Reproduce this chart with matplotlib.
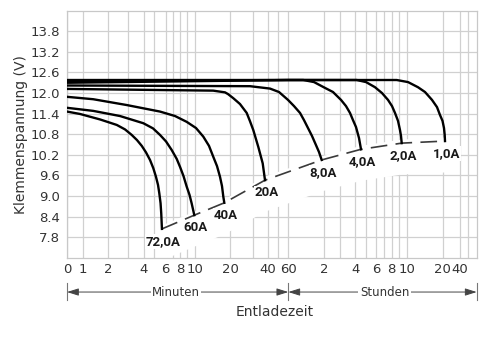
import numpy as np
import matplotlib
matplotlib.use('Agg')
import matplotlib.pyplot as plt
import matplotlib.transforms as mtransforms

plt.rcParams['font.family'] = 'DejaVu Sans'

# Zeitachse in Minuten (ungleichmaessige Teilung wie im Original)
scale_min = [0, 1, 2, 3, 4, 5, 6, 7, 8, 9, 10, 20, 30, 40, 50, 60,
             120, 180, 240, 300, 360, 420, 480, 540, 600, 1200, 2400, 3000, 3600]
scale_pos = [67, 82.5, 108, 128, 144, 154, 165.5, 172.7, 180, 187.3, 195, 230, 252.7, 267.7, 278.3, 288.3,
             324, 340, 355.3, 365.7, 376, 384, 391.7, 399.3, 406.7, 442.7, 460, 468.3, 476.7]

major_t = [0, 1, 2, 4, 6, 8, 10, 20, 40, 60, 120, 240, 360, 480, 600, 1200, 2400]
major_lbl = ['0', '1', '2', '4', '6', '8', '10', '20', '40', '60', '2', '4', '6', '8', '10', '20', '40']
minor_t = [3, 5, 7, 9, 30, 50, 180, 300, 420, 540, 3000]
y_ticks = [7.8, 8.4, 9.0, 9.6, 10.2, 10.8, 11.4, 12.0, 12.6, 13.2, 13.8]

# Entladekurven: Zeit (min), Spannung (V)
labels = ['72,0A', '60A', '40A', '20A', '8,0A', '4,0A', '2,0A', '1,0A']

t_72 = [0, 0.84, 1.69, 2.44, 2.85, 3.23, 3.56, 3.86, 4.2, 4.6, 4.93, 5.17, 5.35, 5.46, 5.57, 5.63, 5.69]
v_72 = [11.46, 11.39, 11.23, 11.07, 10.94, 10.78, 10.63, 10.46, 10.27, 10.05, 9.81, 9.56, 9.32, 9.08, 8.79, 8.49, 8.04]

t_60 = [0, 1.42, 2.6, 3.96, 4.9, 5.52, 6.07, 6.86, 7.55, 8.0, 8.48, 8.92, 9.29, 9.57, 9.91]
v_60 = [11.57, 11.48, 11.33, 11.12, 10.97, 10.78, 10.59, 10.34, 10.08, 9.85, 9.58, 9.27, 9.03, 8.78, 8.44]

t_40 = [0, 1.42, 2.94, 5.52, 7.32, 8.92, 10.29, 12.37, 14.0, 15.23, 16.29, 17.14, 17.71, 18.09, 18.37]
v_40 = [11.89, 11.82, 11.65, 11.46, 11.33, 11.16, 10.98, 10.73, 10.46, 10.14, 9.87, 9.56, 9.29, 8.98, 8.80]

t_20 = [0, 15.2, 18.57, 19.43, 21.45, 24.4, 27.36, 28.8, 30.4, 33.73, 36.67, 38.2]
v_20 = [12.12, 12.07, 12.02, 11.97, 11.85, 11.68, 11.42, 11.18, 10.92, 10.43, 9.95, 9.46]

t_8 = [0, 28.8, 42.2, 50.7, 59.7, 69.6, 79.7, 86.4, 93.1, 99.8, 106.6, 111.6, 116.1]
v_8 = [12.22, 12.2, 12.13, 12.03, 11.8, 11.62, 11.42, 11.21, 10.98, 10.75, 10.48, 10.28, 10.05]

t_4 = [0, 60, 85.2, 103.2, 123.75, 153.75, 183.9, 203.5, 219.2, 231, 244, 261.3, 272.9]
v_4 = [12.3, 12.38, 12.38, 12.32, 12.15, 12.03, 11.8, 11.62, 11.42, 11.21, 11.01, 10.69, 10.36]

t_2 = [0, 60, 248, 301.7, 354.2, 405, 451.2, 482.4, 506, 529.7, 545.7, 553.8, 559.5]
v_2 = [12.35, 12.38, 12.38, 12.32, 12.17, 12.0, 11.8, 11.62, 11.42, 11.19, 10.92, 10.75, 10.54]

t_1 = [0, 519.5, 621.7, 788, 905, 1021.7, 1105, 1155, 1196.7, 1290, 1338.7, 1359.5]
v_1 = [12.38, 12.38, 12.32, 12.17, 12.03, 11.8, 11.59, 11.36, 11.19, 10.98, 10.78, 10.6]

curves = [(t_72, v_72), (t_60, v_60), (t_40, v_40), (t_20, v_20),
          (t_8, v_8), (t_4, v_4), (t_2, v_2), (t_1, v_1)]


def fwd(t):
    return np.interp(t, scale_min, scale_pos)


def inv(p):
    return np.interp(p, scale_pos, scale_min)


fig, ax = plt.subplots(figsize=(5, 3.37), dpi=100)
fig.subplots_adjust(left=0.134, right=0.9534, top=0.9682, bottom=0.2353)
ax.set_xscale('function', functions=(fwd, inv))

for t, v in curves:
    ax.plot(t, v, color='black', lw=1.7, solid_joinstyle='round', zorder=3)

# Entladeschlussspannung (gestrichelt) + weisser Hintergrund der Beschriftung
end_t = np.array([c[0][-1] for c in curves])
end_v = np.array([c[1][-1] for c in curves])
ax.fill_between(end_t, end_v - 0.9, end_v + 0.12, color='white', lw=0, zorder=1.5)
ax.plot(end_t, end_v, color='#3a3a3a', lw=1.2, ls=(0, (10, 5)), zorder=2.8)

for lbl, t, v in zip(labels, end_t, end_v):
    ax.annotate(lbl, xy=(t, v), xytext=(1, -9), textcoords='offset points',
                ha='center', va='center', fontsize=9.5, fontweight='bold',
                family=['Roboto', 'DejaVu Sans'], color='#1a1a1a',
                bbox=dict(fc='white', ec='none', pad=0.5), zorder=4)

ax.set_xticks(major_t)
ax.set_xticklabels(major_lbl)
ax.set_xticks(minor_t, minor=True)
ax.set_yticks(y_ticks)
ax.set_yticklabels(['%.1f' % y for y in y_ticks])
ax.set_axisbelow(True)
ax.grid(which='both', color='#d0d0d0', lw=0.9)
ax.tick_params(which='both', length=0)
ax.tick_params(axis='x', pad=4, labelsize=9.5, labelcolor='#333333')
ax.tick_params(axis='y', pad=5, labelsize=9.5, labelcolor='#333333')
for s in ax.spines.values():
    s.set_color('#c8c8c8')
    s.set_linewidth(0.9)

ax.set_ylabel('Klemmenspannung (V)', fontsize=10, color='#333333')
ax.yaxis.set_label_coords(-0.095, 0.5)

# Minuten / Stunden Pfeile unter der Achse
trans = mtransforms.blended_transform_factory(ax.transData, ax.transAxes)
y_arr = -0.139
for t0, t1 in [(7.45, 0), (7.45, 60), (424, 60), (424, 3600)]:
    ax.annotate('', xy=(t1, y_arr), xytext=(t0, y_arr), xycoords=trans, textcoords=trans,
                arrowprops=dict(arrowstyle='-|>,head_length=0.7,head_width=0.22', color='#444444',
                                lw=0.7, shrinkA=0, shrinkB=0, mutation_scale=10),
                annotation_clip=False)
for t in [0, 60, 3600]:
    ax.plot([t, t], [-0.102, -0.17], transform=trans, color='#777777', lw=0.8, clip_on=False)
ax.text(7.45, y_arr, 'Minuten', transform=trans, ha='center', va='center', fontsize=8.5,
        color='#333333', bbox=dict(fc='white', ec='none', pad=1))
ax.text(424, y_arr, 'Stunden', transform=trans, ha='center', va='center', fontsize=8.5,
        color='#333333', bbox=dict(fc='white', ec='none', pad=1))
ax.text(0.508, -0.22, 'Entladezeit', transform=ax.transAxes, ha='center', va='center',
        fontsize=10, color='#333333')

ax.set_xlim(0, 3600)
ax.set_ylim(7.2, 14.4)

fig.savefig('out.png', dpi=100)
